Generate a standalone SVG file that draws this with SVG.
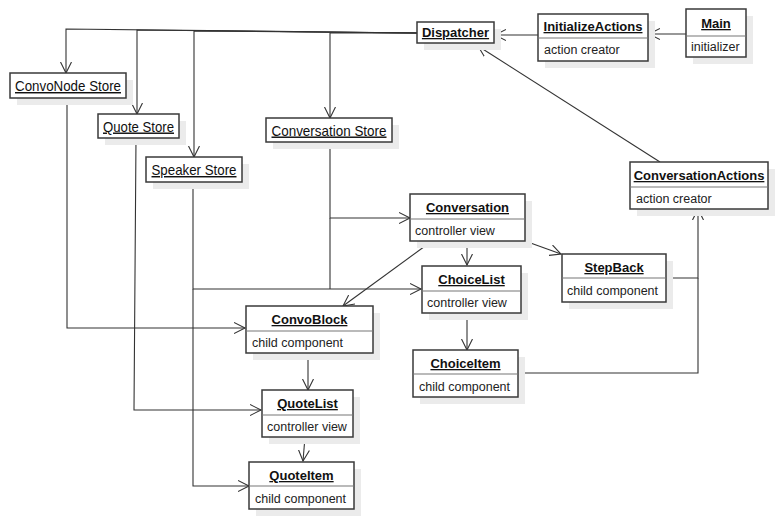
<svg xmlns="http://www.w3.org/2000/svg" width="778" height="519" viewBox="0 0 778 519">
<defs>
<marker id="arr" markerWidth="14" markerHeight="12" refX="11" refY="6" orient="auto" markerUnits="userSpaceOnUse">
<path d="M0,0.5 L11,6 L0,11.5" fill="none" stroke="#333" stroke-width="1.1"/>
</marker>
</defs>
<style>
.sh{fill:#ebebeb}
.bx{fill:#fff;stroke:#3a3a3a;stroke-width:1.5}
.dv{stroke:#777;stroke-width:1.2}
.t{font-family:"Liberation Sans",Arial,sans-serif;font-size:13px;font-weight:bold;text-decoration:underline;fill:#111;text-anchor:middle}
.s{font-family:"Liberation Sans",Arial,sans-serif;font-size:14.5px;text-decoration:underline;fill:#111;text-anchor:middle}
.b{font-family:"Liberation Sans",Arial,sans-serif;font-size:12.5px;fill:#222}
.c{fill:none;stroke:#333;stroke-width:1.1;marker-end:url(#arr)}
.n{fill:none;stroke:#333;stroke-width:1.1}
</style>
<rect width="778" height="519" fill="#fff"/>
<g id="connectors">
<polyline class="c" points="417,33 66,29 66,73"/>
<polyline class="c" points="417,33 137,30 137,114"/>
<polyline class="c" points="417,33 194,31 194,157"/>
<polyline class="c" points="417,33 330,33 330,118"/>
<line class="c" x1="538" y1="35" x2="495" y2="35"/>
<line class="c" x1="686" y1="34" x2="649" y2="34"/>
<line class="c" x1="660" y1="162" x2="478" y2="46"/>
<polyline class="c" points="67,98 67,328 245,328"/>
<polyline class="c" points="136,138 134,410 261,410"/>
<polyline class="c" points="193,182 193,289 421,289"/>
<polyline class="c" points="193,289 193,486 249,486"/>
<polyline class="c" points="330,142 330,218 410,218"/>
<polyline class="n" points="330,218 330,289"/>
<line class="c" x1="467" y1="241" x2="467" y2="265"/>
<line class="c" x1="432" y1="241" x2="343" y2="306"/>
<line class="c" x1="525" y1="241" x2="561" y2="254"/>
<line class="c" x1="467" y1="313" x2="467" y2="350"/>
<line class="c" x1="308" y1="353" x2="308" y2="390"/>
<line class="c" x1="305" y1="437" x2="303" y2="461"/>
<polyline class="c" points="666,278 698,278 698,209"/>
<polyline class="n" points="518,373 698,373 698,278"/>
</g>
<g id="Dispatcher">
<rect class="sh" x="424" y="29" width="77" height="21"/>
<rect class="bx" x="417" y="22" width="77" height="21"/>
<text class="t" x="455.5" y="37">Dispatcher</text>
</g>
<g id="InitializeActions">
<rect class="sh" x="545" y="21" width="110" height="47"/>
<rect class="bx" x="538" y="14" width="110" height="47"/>
<line class="dv" x1="538" y1="38" x2="648" y2="38"/>
<text class="t" x="593" y="31">InitializeActions</text>
<text class="b" x="544" y="54">action creator</text>
</g>
<g id="Main">
<rect class="sh" x="693" y="16" width="60" height="48"/>
<rect class="bx" x="686" y="9" width="60" height="48"/>
<line class="dv" x1="686" y1="36" x2="746" y2="36"/>
<text class="t" x="716" y="28">Main</text>
<text class="b" x="691" y="51">initializer</text>
</g>
<g id="ConvoNodeStore">
<rect class="sh" x="17" y="80" width="116" height="25"/>
<rect class="bx" x="10" y="73" width="116" height="25"/>
<text class="s" x="68" y="91" textLength="106" lengthAdjust="spacingAndGlyphs">ConvoNode Store</text>
</g>
<g id="QuoteStore">
<rect class="sh" x="105" y="121" width="81" height="24"/>
<rect class="bx" x="98" y="114" width="81" height="24"/>
<text class="s" x="138.5" y="131.5" textLength="71" lengthAdjust="spacingAndGlyphs">Quote Store</text>
</g>
<g id="SpeakerStore">
<rect class="sh" x="153" y="164" width="96" height="25"/>
<rect class="bx" x="146" y="157" width="96" height="25"/>
<text class="s" x="194" y="175" textLength="85" lengthAdjust="spacingAndGlyphs">Speaker Store</text>
</g>
<g id="ConversationStore">
<rect class="sh" x="273" y="125" width="126" height="24"/>
<rect class="bx" x="266" y="118" width="126" height="24"/>
<text class="s" x="329" y="135.5" textLength="115" lengthAdjust="spacingAndGlyphs">Conversation Store</text>
</g>
<g id="ConversationActions">
<rect class="sh" x="637" y="169" width="138" height="47"/>
<rect class="bx" x="630" y="162" width="138" height="47"/>
<line class="dv" x1="630" y1="187" x2="768" y2="187"/>
<text class="t" x="699" y="180">ConversationActions</text>
<text class="b" x="636" y="203">action creator</text>
</g>
<g id="Conversation">
<rect class="sh" x="417" y="201" width="115" height="47"/>
<rect class="bx" x="410" y="194" width="115" height="47"/>
<line class="dv" x1="410" y1="219" x2="525" y2="219"/>
<text class="t" x="467.5" y="212">Conversation</text>
<text class="b" x="415" y="235">controller view</text>
</g>
<g id="ChoiceList">
<rect class="sh" x="429" y="273" width="99" height="47"/>
<rect class="bx" x="422" y="266" width="99" height="47"/>
<line class="dv" x1="422" y1="291" x2="521" y2="291"/>
<text class="t" x="471.5" y="284">ChoiceList</text>
<text class="b" x="427" y="307">controller view</text>
</g>
<g id="StepBack">
<rect class="sh" x="569" y="261" width="104" height="48"/>
<rect class="bx" x="562" y="254" width="104" height="48"/>
<line class="dv" x1="562" y1="278" x2="666" y2="278"/>
<text class="t" x="614" y="272">StepBack</text>
<text class="b" x="567" y="295">child component</text>
</g>
<g id="ConvoBlock">
<rect class="sh" x="253" y="313" width="127" height="47"/>
<rect class="bx" x="246" y="306" width="127" height="47"/>
<line class="dv" x1="246" y1="331" x2="373" y2="331"/>
<text class="t" x="309.5" y="324">ConvoBlock</text>
<text class="b" x="252" y="347">child component</text>
</g>
<g id="ChoiceItem">
<rect class="sh" x="420" y="357" width="105" height="47"/>
<rect class="bx" x="413" y="350" width="105" height="47"/>
<line class="dv" x1="413" y1="374" x2="518" y2="374"/>
<text class="t" x="465.5" y="368">ChoiceItem</text>
<text class="b" x="419" y="391">child component</text>
</g>
<g id="QuoteList">
<rect class="sh" x="269" y="397" width="91" height="47"/>
<rect class="bx" x="262" y="390" width="91" height="47"/>
<line class="dv" x1="262" y1="415" x2="353" y2="415"/>
<text class="t" x="307.5" y="408">QuoteList</text>
<text class="b" x="267" y="431">controller view</text>
</g>
<g id="QuoteItem">
<rect class="sh" x="256" y="469" width="105" height="47"/>
<rect class="bx" x="249" y="462" width="105" height="47"/>
<line class="dv" x1="249" y1="486" x2="354" y2="486"/>
<text class="t" x="301.5" y="480">QuoteItem</text>
<text class="b" x="255" y="503">child component</text>
</g>
</svg>
